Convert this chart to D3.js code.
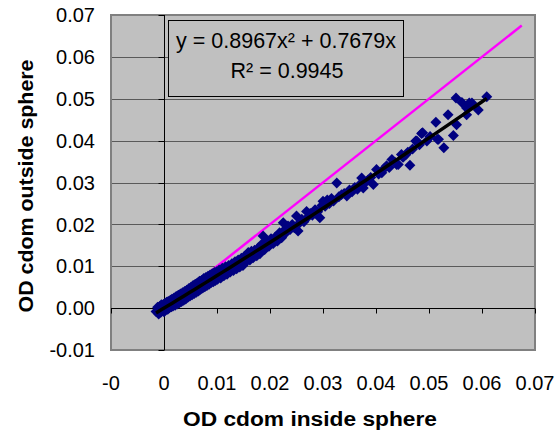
<!DOCTYPE html>
<html>
<head>
<meta charset="utf-8">
<script src="https://cdn.jsdelivr.net/npm/d3@7"></script>
<style>
  html, body { margin: 0; padding: 0; background: #ffffff; }
  svg { display: block; font-family: "Liberation Sans", Arial, sans-serif; }
</style>
</head>
<body>
<svg id="chart" width="557" height="433"></svg>
<script>
// ---- data ----
const xTicks = [-0.01, 0, 0.01, 0.02, 0.03, 0.04, 0.05, 0.06, 0.07];
const xTickLabels = ["-0", "0", "0.01", "0.02", "0.03", "0.04", "0.05", "0.06", "0.07"];
const yTicks = [-0.01, 0, 0.01, 0.02, 0.03, 0.04, 0.05, 0.06, 0.07];
const yTickLabels = ["-0.01", "0.00", "0.01", "0.02", "0.03", "0.04", "0.05", "0.06", "0.07"];

const odInside = [
  -0.0015, -0.0012, -0.0010, -0.0008, -0.0006, -0.0005, -0.0003, -0.0001, 0.0000, 0.0002,
  0.0003, 0.0005, 0.0007, 0.0008, 0.0010, 0.0012, 0.0014, 0.0015, 0.0017, 0.0019,
  0.0021, 0.0023, 0.0025, 0.0027, 0.0029, 0.0031, 0.0033, 0.0035, 0.0037, 0.0039,
  0.0041, 0.0043, 0.0045, 0.0047, 0.0049, 0.0051, 0.0053, 0.0055, 0.0057, 0.0059,
  0.0061, 0.0063, 0.0065, 0.0067, 0.0069, 0.0071, 0.0073, 0.0075, 0.0077, 0.0079,
  0.0081, 0.0083, 0.0085, 0.0087, 0.0089, 0.0091, 0.0093, 0.0095, 0.0097, 0.0099,
  0.0101, 0.0104, 0.0107, 0.0110, 0.0113, 0.0116, 0.0119, 0.0122, 0.0125, 0.0128,
  0.0131, 0.0134, 0.0137, 0.0140, 0.0143, 0.0146, 0.0149, 0.0152, 0.0156, 0.0159,
  0.0162, 0.0165, 0.0168, 0.0171, 0.0175, 0.0178, 0.0181, 0.0184, 0.0187, 0.0190,
  0.0194, 0.0198, 0.0202, 0.0206, 0.0210, 0.0214, 0.0218, 0.0222, 0.0225, 0.0226,
  0.0230, 0.0234, 0.0238, 0.0242, 0.0246, 0.0250, 0.0253, 0.0256, 0.0260, 0.0264,
  0.0269, 0.0272, 0.0276, 0.0280, 0.0285, 0.0290, 0.0294, 0.0298, 0.0300, 0.0304,
  0.0308, 0.0312, 0.0316, 0.0320, 0.0326, 0.0330, 0.0335, 0.0340, 0.0345, 0.0350,
  0.0355, 0.0360, 0.0365, 0.0370, 0.0373, 0.0376, 0.0380, 0.0385, 0.0390, 0.0395,
  0.0401, 0.0405, 0.0411, 0.0416, 0.0420, 0.0425, 0.0430, 0.0436, 0.0439, 0.0442,
  0.0448, 0.0451, 0.0456, 0.0460, 0.0464, 0.0469, 0.0475, 0.0477, 0.0482, 0.0486,
  0.0488, 0.0496, 0.0502, 0.0513, 0.0516, 0.0518, 0.0528, 0.0536, 0.0546, 0.0551,
  0.0552, 0.0562, 0.0571, 0.0571, 0.0576, 0.0581, 0.0593, 0.0609
];
const odOutside = [
  -0.0008, 0.0002, -0.0014, 0.0004, -0.0010, 0.0008, -0.0006, 0.0009, -0.0009, 0.0011,
  -0.0004, 0.0014, -0.0003, 0.0016, 0.0001, 0.0019, 0.0003, 0.0021, 0.0005, 0.0024,
  0.0007, 0.0028, 0.0010, 0.0031, 0.0013, 0.0034, 0.0016, 0.0037, 0.0019, 0.0040,
  0.0022, 0.0043, 0.0026, 0.0047, 0.0029, 0.0050, 0.0032, 0.0054, 0.0035, 0.0057,
  0.0038, 0.0060, 0.0041, 0.0064, 0.0045, 0.0066, 0.0048, 0.0071, 0.0051, 0.0073,
  0.0054, 0.0076, 0.0057, 0.0079, 0.0061, 0.0082, 0.0063, 0.0085, 0.0066, 0.0087,
  0.0069, 0.0091, 0.0072, 0.0095, 0.0077, 0.0099, 0.0081, 0.0102, 0.0086, 0.0106,
  0.0090, 0.0111, 0.0094, 0.0115, 0.0098, 0.0119, 0.0102, 0.0124, 0.0112, 0.0133,
  0.0115, 0.0136, 0.0120, 0.0138, 0.0125, 0.0144, 0.0130, 0.0152, 0.0172, 0.0140,
  0.0160, 0.0148, 0.0166, 0.0154, 0.0170, 0.0160, 0.0180, 0.0168, 0.0204, 0.0185,
  0.0180, 0.0196, 0.0188, 0.0200, 0.0192, 0.0220, 0.0184, 0.0204, 0.0212, 0.0206,
  0.0231, 0.0218, 0.0226, 0.0222, 0.0235, 0.0230, 0.0216, 0.0245, 0.0255, 0.0243,
  0.0258, 0.0250, 0.0262, 0.0256, 0.0299, 0.0266, 0.0271, 0.0274, 0.0268, 0.0282,
  0.0278, 0.0288, 0.0284, 0.0296, 0.0311, 0.0287, 0.0300, 0.0306, 0.0312, 0.0295,
  0.0331, 0.0320, 0.0323, 0.0334, 0.0340, 0.0336, 0.0355, 0.0348, 0.0343, 0.0343,
  0.0367, 0.0360, 0.0366, 0.0372, 0.0341, 0.0380, 0.0399, 0.0399, 0.0390, 0.0417,
  0.0419, 0.0399, 0.0410, 0.0444, 0.0403, 0.0403, 0.0383, 0.0462, 0.0412, 0.0502,
  0.0438, 0.0491, 0.0478, 0.0462, 0.0490, 0.0490, 0.0473, 0.0505
];

// 1:1 reference line
const oneToOneX = [0, 0.0675];
const oneToOneY = [0, 0.0675];

// polynomial trendline (as displayed): y = a x^2 + b x
const fitCoefficients = [0.8967, 0.7679];
const fitLabel = "y = 0.8967x\u00B2 + 0.7679x";
const r2Label = "R\u00B2 = 0.9945";
const xTitle = "OD cdom  inside sphere";
const yTitle = "OD cdom outside sphere";

// ---- drawing ----
const svg = d3.select("#chart");
const L = 111, R = 535, T = 15, B = 350;
const x = d3.scaleLinear().domain([-0.01, 0.07]).range([L, R]);
const y = d3.scaleLinear().domain([-0.01, 0.07]).range([B, T]);

// plot background
svg.append("rect").attr("x", L).attr("y", T).attr("width", R - L).attr("height", B - T)
  .attr("fill", "#c0c0c0");

// horizontal gridlines
svg.append("g").selectAll("line").data(yTicks).join("line")
  .attr("x1", L).attr("x2", R)
  .attr("y1", d => Math.round(y(d)) + 0.5).attr("y2", d => Math.round(y(d)) + 0.5)
  .attr("stroke", "#5a5a5a").attr("stroke-width", 1);

// plot border
svg.append("rect").attr("x", L).attr("y", T).attr("width", R - L).attr("height", B - T)
  .attr("fill", "none").attr("stroke", "#808080").attr("stroke-width", 2);

// axis lines through zero
const x0 = Math.round(x(0)) + 0.5, y0 = Math.round(y(0)) + 0.5;
svg.append("line").attr("x1", x0).attr("x2", x0).attr("y1", T).attr("y2", B)
  .attr("stroke", "#000").attr("stroke-width", 1);
svg.append("line").attr("x1", L).attr("x2", R).attr("y1", y0).attr("y2", y0)
  .attr("stroke", "#000").attr("stroke-width", 1);
// y ticks (left of axis)
svg.append("g").selectAll("line").data(yTicks).join("line")
  .attr("x1", x0 - 6).attr("x2", x0)
  .attr("y1", d => Math.round(y(d)) + 0.5).attr("y2", d => Math.round(y(d)) + 0.5)
  .attr("stroke", "#000");
// x ticks (below axis)
svg.append("g").selectAll("line").data(xTicks).join("line")
  .attr("x1", d => Math.round(x(d)) + 0.5).attr("x2", d => Math.round(x(d)) + 0.5)
  .attr("y1", y0).attr("y2", y0 + 5)
  .attr("stroke", "#000");

// tick labels
svg.append("g").selectAll("text").data(yTicks).join("text")
  .attr("x", 95).attr("y", d => y(d)).attr("dy", "0.36em")
  .attr("text-anchor", "end").attr("font-size", 20).attr("fill", "#000")
  .text((d, i) => yTickLabels[i]);
svg.append("g").selectAll("text").data(xTicks).join("text")
  .attr("x", d => x(d)).attr("y", 390)
  .attr("text-anchor", "middle").attr("font-size", 20).attr("fill", "#000")
  .text((d, i) => xTickLabels[i]);

// axis titles
svg.append("text").attr("x", 310).attr("y", 426).attr("text-anchor", "middle")
  .attr("font-size", 20).attr("font-weight", "bold")
  .attr("textLength", 254).attr("lengthAdjust", "spacingAndGlyphs").text(xTitle);
svg.append("text").attr("transform", "translate(33,186) rotate(-90)").attr("text-anchor", "middle")
  .attr("font-size", 20).attr("font-weight", "bold")
  .attr("textLength", 253).attr("lengthAdjust", "spacingAndGlyphs").text(yTitle);

// 1:1 line (magenta)
svg.append("path")
  .datum(oneToOneX.map((v, i) => [v, oneToOneY[i]]))
  .attr("d", d3.line().x(d => x(d[0])).y(d => y(d[1])))
  .attr("fill", "none").attr("stroke", "#ff00ff").attr("stroke-width", 2.5);

// scatter points (navy diamonds)
const pts = odInside.map((v, i) => [v, odOutside[i]]);
const diamond = d3.symbol(d3.symbolSquare, 60)();
svg.append("g").selectAll("path").data(pts).join("path")
  .attr("d", diamond)
  .attr("transform", d => `translate(${x(d[0])},${y(d[1])}) rotate(45)`)
  .attr("fill", "#000080");

// trendline from displayed coefficients over the data range
const [xmin, xmax] = d3.extent(odInside);
const trendXs = d3.range(0, 61).map(i => xmin + (xmax - xmin) * i / 60);
svg.append("path")
  .datum(trendXs.map(v => [v, fitCoefficients[0] * v * v + fitCoefficients[1] * v]))
  .attr("d", d3.line().x(d => x(d[0])).y(d => y(d[1])))
  .attr("fill", "none").attr("stroke", "#000").attr("stroke-width", 3.5);

// equation box
svg.append("rect").attr("x", 168.5).attr("y", 20.5).attr("width", 235).attr("height", 76)
  .attr("fill", "#c0c0c0").attr("stroke", "#000").attr("stroke-width", 1);
svg.append("text").attr("x", 286).attr("y", 48).attr("text-anchor", "middle")
  .attr("font-size", 21.5).attr("fill", "#000").text(fitLabel);
svg.append("text").attr("x", 287).attr("y", 78).attr("text-anchor", "middle")
  .attr("font-size", 21.5).attr("fill", "#000").text(r2Label);
</script>
</body>
</html>
